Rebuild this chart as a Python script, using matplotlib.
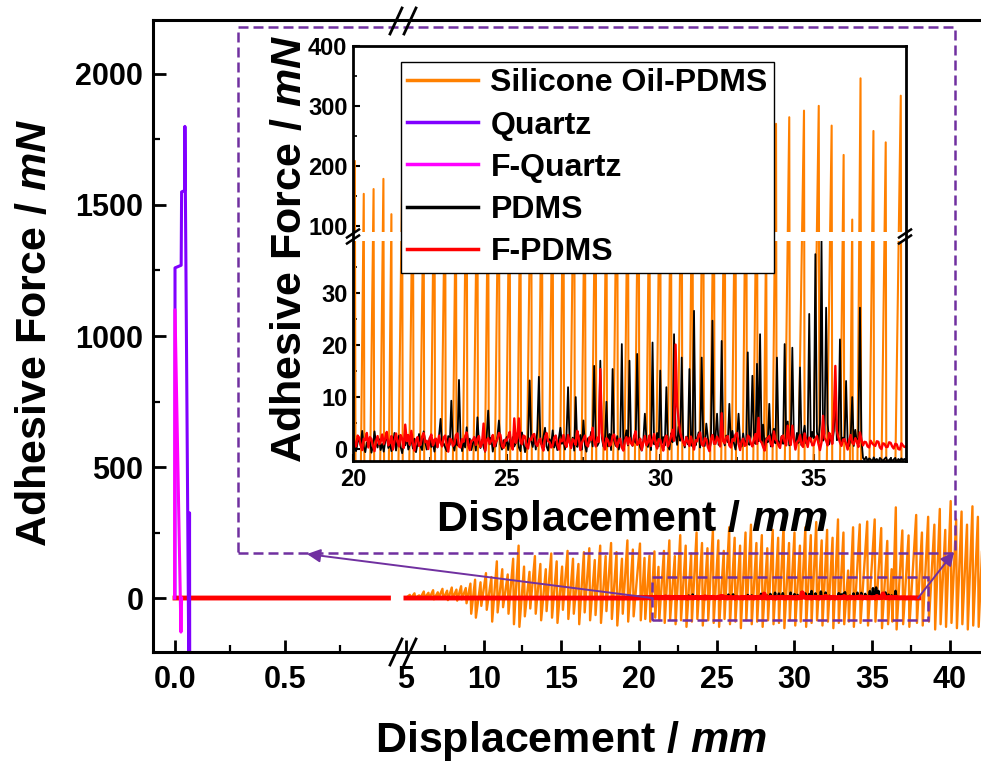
import numpy as np
import matplotlib
matplotlib.use('Agg')
import matplotlib.pyplot as plt
from matplotlib.lines import Line2D
from matplotlib.patches import Rectangle

plt.rcParams['font.family'] = 'Liberation Sans'
plt.rcParams['font.weight'] = 'bold'
plt.rcParams['mathtext.fontset'] = 'custom'
plt.rcParams['mathtext.it'] = 'Liberation Sans:italic:bold'
plt.rcParams['mathtext.rm'] = 'Liberation Sans:bold'

# ---------------- data ----------------
labels = ['Silicone Oil-PDMS', 'Quartz', 'F-Quartz', 'PDMS', 'F-PDMS']
colors = ['#FF8000', '#8000FF', '#FF00FF', '#000000', '#FF0000']

# Silicone oil-PDMS: stick-slip cycles (peak position, peak force, force after the slip)
oil_peak_x = [5.25, 5.55, 5.85, 6.15, 6.45, 6.75, 7.05, 7.35, 7.65, 7.95,
              8.25, 8.55, 8.85, 9.15, 9.45, 9.8, 10.15, 10.5, 10.85, 11.2,
              11.55, 11.9, 12.25, 12.6, 12.95, 13.3, 13.65, 14.0, 14.35, 14.7,
              15.05, 15.4, 15.75, 16.1, 16.45, 16.8, 17.15, 17.5, 17.85, 18.2,
              18.55, 18.9, 19.25, 19.6, 20.06, 20.35, 20.67, 20.99, 21.25, 21.6,
              21.95, 22.3, 22.65, 23.0, 23.35, 23.7, 24.05, 24.4, 24.75, 25.1,
              25.45, 25.8, 26.15, 26.5, 26.85, 27.2, 27.55, 27.9, 28.25, 28.6,
              28.95, 29.3, 29.65, 30.0, 30.35, 30.7, 31.05, 31.4, 31.75, 32.1,
              32.45, 32.8, 33.15, 33.45, 33.77, 34.2, 34.68, 35.16, 35.58, 35.97,
              36.25, 36.52, 36.94, 37.34, 37.83, 38.2, 38.6, 39.0, 39.35, 39.7,
              40.05, 40.4, 40.75, 41.1, 41.45, 41.8, 42.15]
oil_peak_y = [12, 18, 10, 25, 20, 30, 22, 35, 28, 40,
              32, 45, 38, 55, 70, 60, 95, 80, 140, 110,
              90, 150, 200, 120, 100, 160, 130, 110, 170, 140,
              120, 180, 150, 130, 175, 190, 145, 200, 160, 210,
              175, 150, 220, 185, 208, 153, 161, 178, 119, 180,
              220, 160, 240, 200, 170, 250, 210, 190, 260, 220,
              180, 270, 230, 200, 250, 280, 210, 240, 190, 260,
              230, 280, 210, 250, 200, 270, 240, 290, 220, 260,
              230, 300, 250, 105, 270, 281, 292, 300, 267, 218,
              110, 346, 258, 239, 317, 250, 310, 280, 340, 260,
              370, 300, 330, 280, 350, 310, 290]
oil_valley_y = [-2, 0, -3, 0, -2, -5, 0, -3, -8, -2,
                -10, -5, -20, -60, -75, -30, -45, -90, -55, -35,
                -60, -100, -110, -70, -40, -60, -85, -50, -75, -95,
                -45, -80, -60, -100, -55, -85, -65, -95, -50, -80,
                -105, -60, -90, -70, -85, -80, -90, -75, -85, -95,
                -80, -100, -85, -110, -90, -80, -105, -85, -95, -110,
                -80, -100, -90, -115, -85, -100, -90, -110, -85, -100,
                -95, -115, -85, -105, -90, -110, -95, -85, -105, -90,
                -115, -95, -100, -90, -110, -95, -105, -90, -115, -100,
                -90, -120, -100, -110, -95, -105, -90, -120, -100, -110,
                -95, -115, -100, -120, -105, -110, -100]

# Quartz and F-Quartz: a few points near zero displacement
quartz_x = [0.0, 0.0, 0.028, 0.03, 0.044, 0.045, 0.064, 0.066, 0.067]
quartz_y = [0, 1260, 1270, 1550, 1555, 1800, -400, 325, -400]
fquartz_x = [-0.002, 0.0, 0.027, 0.03]
fquartz_y = [0, 1100, -130, 0]

# PDMS and F-PDMS recorded between 20 and 38 mm (one row per mm, step 0.05 mm)
film_x = np.round(np.arange(20.0, 38.025, 0.05), 2)
pdms_y = [
    1.5, 0.2, -0.5, 1.1, 2.0, 0.6, 3.4, 0.3, -0.7, 1.2, 0.4, 1.9, -0.8, 0.5, 3.3, 1.0, 0.2, 1.8, -0.3, 0.9,
    -0.6, 1.4, 2.5, 0.1, 1.0, -0.5, 0.7, 3.0, -0.4, 1.6, 2.5, 0.3, -0.9, 1.2, 0.6, 2.2, -0.2, 0.8, 1.7, 0.0,
    1.9, -0.7, 0.9, 2.8, 0.4, -0.3, 3.3, 1.3, -0.2, 0.6, 2.1, 0.3, 1.1, -0.6, 1.5, 0.2, 2.4, 5.7, 0.5, 1.0,
    0.2, -0.5, 2.4, 0.7, 9.2, 1.0, -0.4, 1.8, 0.6, 13.2, 2.0, -0.5, 1.3, 0.2, 4.1, 0.7, 1.9, -0.3, 0.9, 2.1,
    -0.4, 6.0, 1.2, 0.1, 1.7, 0.3, -0.6, 2.2, 7.3, 0.8, 2.1, -0.6, 1.4, 0.4, 2.3, 5.4, 0.8, -0.2, 1.6, 0.5,
    2.2, -0.3, 1.7, 0.5, 2.2, 0.4, 1.1, 3.0, 0.2, -0.5, 3.1, 1.0, -0.7, 0.8, 1.9, 13.1, 1.5, 0.3, 2.4, -0.2,
    3.6, 13.8, 1.2, 0.6, 2.3, 4.0, 0.4, -0.4, 1.8, 0.7, 3.5, 0.2, 1.4, -0.3, 2.0, 4.0, 0.9, 1.6, -0.2, 2.6,
    11.8, 1.2, 0.3, 2.1, -0.4, 9.9, 0.3, 1.5, 2.6, -0.2, 5.4, 0.6, -0.6, 2.0, 1.1, 3.2, 0.4, 15.9, 1.3, 0.5,
    1.1, 16.9, 2.0, 0.4, 1.5, 9.0, 0.4, 2.8, -0.3, 15.3, 1.6, 0.5, 2.4, -0.2, 1.0, 20.1, -0.3, 1.7, 3.5, 0.6,
    16.9, 1.3, 0.5, 2.4, 1.1, 18.2, 2.4, 0.2, -0.4, 1.6, 6.7, 1.9, 0.3, 2.5, -0.3, 20.4, 0.8, 1.4, 3.0, 0.4,
    15.0, 1.0, 2.2, 0.6, 11.8, 0.5, -0.2, 2.9, 1.2, 22.0, 2.6, 0.7, 4.2, 1.5, 17.5, 1.4, 0.2, 2.3, 0.8, 15.3,
    2.0, 0.4, 26.5, 0.6, 1.8, 3.1, 0.2, 17.5, 1.5, 0.5, 4.8, 2.1, -0.3, 1.3, 24.6, 0.9, 2.2, 6.7, 0.7, 1.9,
    20.7, 1.8, 0.6, 2.5, 1.2, 8.6, 0.5, 3.4, 1.0, -0.2, 2.1, 6.7, 1.2, 0.4, 2.9, 0.8, 1.6, 18.5, 0.7, 2.3,
    14.0, 2.5, 0.9, 16.3, 1.4, 22.0, 1.1, 4.6, 0.3, 2.0, 1.2, 8.6, 0.4, 2.7, 3.8, 1.0, 17.5, 1.6, 0.5, 2.4,
    0.9, 20.1, 1.5, 5.2, 0.6, 2.3, 19.4, 1.7, 0.8, 3.0, 1.1, 15.6, 0.6, 2.6, 4.4, 1.0, 2.2, 25.9, 1.3, 3.2,
    2.0, 37.4, 3.2, 1.2, 4.8, 40.0, 1.5, 2.9, 27.1, 4.8, 0.8, 2.4, 1.0, 3.3, 9.9, 1.6, 2.6, 21.0, 0.9, 2.1,
    1.4, 13.0, 1.2, 0.5, 2.3, 9.9, 0.5, 3.6, 1.1, 2.0, 27.1, 1.8, -1.8, -2.2, -1.6, -2.4, -1.9, -2.1, -2.5, -1.7,
    -2.3, -2.0, -2.6, -1.8, -2.1, -2.4, -2.0, -1.7, -2.5, -2.2, -1.9, -2.4, -2.1, -1.8, -2.6, -2.0, -2.3, -1.9, -2.2, -2.0,
    -2.1]
fpdms_y = [
    2.8, 1.0, 0.4, 2.5, 2.1, 0.6, -0.3, 1.9, 1.6, 3.0, 0.2, 2.2, 1.8, 0.5, -0.5, 1.4, 2.4, 0.8, 1.3, 2.7,
    0.9, 2.0, 3.2, 0.6, 1.1, 2.4, -0.2, 1.5, 2.9, 1.3, 0.4, 2.6, 1.9, 0.1, 4.6, 1.4, 2.6, 0.7, 3.4, 1.0,
    -0.4, 1.6, 2.2, 0.5, 0.8, 2.3, 3.0, 1.2, 1.5, -0.1, 2.0, 2.7, 0.6, 1.7, 1.9, 0.3, 2.5, 1.1, 0.4, 2.1,
    2.5, 0.8, -0.6, 1.9, 1.7, 0.5, 0.9, 2.6, 2.9, 0.4, 0.2, 1.8, 1.3, 2.4, 3.1, 0.7, -0.3, 1.5, 1.6, 2.2,
    0.7, 1.9, 2.4, 0.3, 1.0, 4.8, -0.5, 1.6, 2.0, 0.9, 1.5, 2.6, 0.4, 1.2, 1.8, 3.0, 2.6, 0.5, 0.1, 1.7,
    1.5, 2.3, 3.2, 0.6, -0.2, 5.8, 1.1, 2.0, 5.8, 1.4, 0.8, 2.5, 2.3, 0.4, 0.0, 1.9, 1.7, 2.6, 2.8, 0.9,
    0.5, 1.6, 1.9, 0.3, -0.4, 2.2, 3.0, 1.4, 1.2, 0.2, 0.6, 2.1, 2.5, 0.8, -0.2, 1.7, 1.4, 2.6, 0.9, 0.3,
    2.6, 1.2, 0.1, 1.8, 1.5, 0.7, 3.4, 2.0, -0.3, 1.1, 1.8, 2.5, 0.7, 0.4, 2.2, 1.6, 4.0, 1.3, 0.4, 2.1,
    1.3, 15.3, 3.0, 1.0, -0.2, 2.0, 1.6, 0.5, 0.8, 2.4, 2.7, 1.1, 0.3, 1.7, 1.9, 0.2, -0.4, 1.5, 2.2, 0.8,
    2.1, 1.0, 0.6, 2.4, 3.3, 0.7, 1.0, 1.9, -0.3, 1.2, 2.4, 0.6, 1.2, 2.5, 0.5, 1.6, 2.8, 0.9, 0.0, 1.8,
    1.7, 0.6, -0.4, 1.8, 2.5, 0.4, 1.1, 2.3, 3.6, 1.5, 20.0, 8.2, 5.4, 3.1, 2.0, 1.2, 0.6, 2.2, 1.4, 0.5,
    2.3, 1.1, -0.2, 1.6, 1.4, 2.5, 3.1, 0.8, 0.5, 2.0, 1.8, 0.3, -0.5, 1.7, 2.6, 1.0, 0.9, 2.3, 1.6, 0.4,
    6.8, 1.4, 1.0, 2.2, 2.4, 0.6, 0.2, 1.8, 1.5, 2.7, 3.0, 0.9, -0.3, 1.4, 1.9, 0.5, 0.7, 2.5, 2.2, 1.0,
    0.4, 1.7, 2.8, 0.9, 5.9, 1.5, 1.2, 0.3, -0.4, 1.6, 2.0, 2.4, 0.9, 0.4, 3.3, 1.8, 1.4, 0.6, 0.1, 2.2,
    2.5, 1.3, 0.6, 4.4, 1.8, 0.7, 4.4, 1.9, -0.2, 1.1, 1.6, 2.6, 0.8, 0.3, 2.9, 1.5, 0.3, 2.1, 1.9, 0.6,
    0.7, 1.8, 2.4, 0.9, -0.3, 1.2, 6.3, 2.0, 1.5, 0.6, 3.0, 2.2, 0.9, 6.3, 15.9, 3.4, 2.1, 1.2, 0.5, 1.7,
    1.8, 0.9, -0.2, 1.6, 2.6, 1.1, 0.8, 2.0, 1.4, 0.3, 3.1, 1.7, 0.6, 1.3, 1.2, 0.4, 0.2, 1.5, 1.0, 0.7,
    0.5, 1.4, 1.3, 0.2, -0.1, 1.0, 0.9, 0.3, 0.3, 1.2, 1.1, 0.4, 0.0, 0.9, 0.8, -0.1, -0.2, 1.0, 0.6, 0.3,
    0.4]

# flat zero stretches of the PDMS / F-PDMS records before 20 mm
flat_x = [0.0, 0.97, np.nan, 5.0, 19.95]
flat_y = [0, 0, np.nan, 0, 0]

# ticks
main_xticks = [0.0, 0.5, 5, 10, 15, 20, 25, 30, 35, 40]
main_xticklabels = ['0.0', '0.5', '5', '10', '15', '20', '25', '30', '35', '40']
main_xminor = [0.25, 0.75, 7.5, 12.5, 17.5, 22.5, 27.5, 32.5, 37.5]
main_yticks = [0, 500, 1000, 1500, 2000]
main_yminor = [250, 750, 1250, 1750]
inset_xticks = [20, 25, 30, 35]
inset_xminor = [22.5, 27.5, 32.5, 37.5]
inset_yticks = [0, 10, 20, 30, 100, 200, 300, 400]
inset_yminor = [5, 15, 25, 35, 150, 250, 350]

# build the silicone oil trace
oil_x = [5.0]
oil_y = [0.0]
for px_, py_, vy_ in zip(oil_peak_x, oil_peak_y, oil_valley_y):
    oil_x += [px_, px_ + 0.05]
    oil_y += [py_, vy_]

# ---------------- broken scales ----------------
XK = 15.54 / 220.0


def x_fwd(x):
    x = np.asarray(x, dtype=float)
    return np.where(x <= 1.0, x, np.where(x >= 4.3, 1.0 + (x - 4.3) * XK, 1.0))


def x_inv(u):
    u = np.asarray(u, dtype=float)
    return np.where(u <= 1.0, u, 4.3 + (u - 1.0) / XK)


YLO, YHI = 40.8, 81.7
YK = 0.6 / 5.21


def y_fwd(y):
    y = np.asarray(y, dtype=float)
    return np.where(y <= YLO, y, np.where(y >= YHI, YLO + (y - YHI) * YK, YLO))


def y_inv(u):
    u = np.asarray(u, dtype=float)
    return np.where(u <= YLO, u, YHI + (u - YLO) / YK)


W, H = 981, 766


def fx(p):
    return p / W


def fy(p):
    return 1 - p / H


fig = plt.figure(figsize=(9.81, 7.66), dpi=100)

# ---------------- main axes ----------------
ax = fig.add_axes([fx(153), fy(652), fx(981) - fx(153), fy(20) - fy(652)])
ax.set_xscale('function', functions=(x_fwd, x_inv))
ax.set_xlim(-0.1, 42)
ax.set_ylim(-206, 2206)

main_film_x = np.concatenate([flat_x, film_x])
ax.plot(oil_x, oil_y, color=colors[0], lw=1.7, zorder=2.0)
ax.plot(main_film_x, np.concatenate([flat_y, pdms_y]), color=colors[3], lw=1.8, zorder=2.1)
ax.plot(main_film_x, np.concatenate([flat_y, fpdms_y]), color=colors[4], lw=3.5, zorder=2.2)
ax.plot(quartz_x, quartz_y, color=colors[1], lw=2.2, zorder=2.3)
ax.plot(fquartz_x, fquartz_y, color=colors[2], lw=2.2, zorder=2.4)

ax.set_xticks(main_xticks)
ax.set_xticklabels(main_xticklabels)
ax.set_xticks(main_xminor, minor=True)
ax.set_yticks(main_yticks)
ax.set_yticks(main_yminor, minor=True)
ax.tick_params(which='both', direction='in', labelsize=22, top=False, right=False)
ax.tick_params(which='major', length=9, width=2.0)
ax.tick_params(which='minor', length=5, width=1.6)
ax.tick_params(axis='x', pad=9)
ax.tick_params(axis='y', pad=7)
for s in ['left', 'bottom', 'top']:
    ax.spines[s].set_linewidth(2.2)
ax.spines['right'].set_visible(False)

# zoom box around the films
ax.add_patch(Rectangle((20.84, -84), 38.6 - 20.84, 164, fill=False,
                       ec='#7030A0', lw=1.8, ls=(0, (4, 2)), zorder=6))
arrow_kw = dict(arrowstyle='-|>', color='#7030A0', lw=1.4, mutation_scale=20,
                shrinkA=0, shrinkB=0)
ax.annotate('', xy=(fx(307), fy(554)), xycoords='figure fraction',
            xytext=(20.84, 0), textcoords='data', arrowprops=arrow_kw, zorder=7)
ax.annotate('', xy=(fx(954), fy(552)), xycoords='figure fraction',
            xytext=(37.95, 0), textcoords='data', arrowprops=arrow_kw, zorder=7)

fig.add_artist(Rectangle((fx(238), fy(553)), fx(955) - fx(238), fy(27) - fy(553),
                         transform=fig.transFigure, fill=False, ec='#7030A0',
                         lw=1.8, ls=(0, (4, 2)), zorder=10))


def break_mark(cx, cy, dx, dy, lw):
    fig.add_artist(Line2D([fx(cx - dx), fx(cx + dx)], [fy(cy + dy), fy(cy - dy)],
                          transform=fig.transFigure, color='black', lw=lw, zorder=12))


for cx in (396, 410):
    break_mark(cx, 652, 6, 13, 2.0)
    break_mark(cx, 21, 6, 13, 2.0)

fig.text(fx(35), fy(333), 'Adhesive Force / $\\mathit{mN}$', rotation=90,
         ha='center', va='center', fontsize=31, fontweight='bold')
fig.text(fx(571), fy(741), 'Displacement / $\\mathit{mm}$',
         ha='center', va='center', fontsize=31, fontweight='bold')

# ---------------- inset ----------------
axin = fig.add_axes([fx(353), fy(461), fx(906) - fx(353), fy(46) - fy(461)])
axin.set_yscale('function', functions=(y_fwd, y_inv))
axin.set_xlim(20, 38)
axin.set_ylim(-2.4, 400)

axin.plot(oil_x, oil_y, color=colors[0], lw=1.5, zorder=2.0)
axin.plot(film_x, pdms_y, color=colors[3], lw=1.3, zorder=2.1)
axin.plot(film_x, fpdms_y, color=colors[4], lw=1.7, zorder=2.2)

t0, t1, tb = y_fwd(-2.4), y_fwd(400), y_fwd(YLO)
frac = float((tb - t0) / (t1 - t0))
axin.add_patch(Rectangle((0, frac - 0.011), 1, 0.022, transform=axin.transAxes,
                         fc='white', ec='none', zorder=2.45))

axin.set_xticks(inset_xticks)
axin.set_xticks(inset_xminor, minor=True)
axin.set_yticks(inset_yticks)
axin.set_yticks(inset_yminor, minor=True)
axin.tick_params(which='both', direction='in', labelsize=17, top=False, right=False)
axin.tick_params(which='major', length=5, width=1.5)
axin.tick_params(which='minor', length=3, width=1.2)
axin.tick_params(axis='x', pad=5)
axin.tick_params(axis='y', pad=4)
for s in axin.spines.values():
    s.set_linewidth(2.0)

break_y = fy(461) + frac * (fy(46) - fy(461))
for cx in (353, 905):
    for off in (-3, 3):
        fig.add_artist(Line2D([fx(cx - 6), fx(cx + 6)],
                              [break_y + (off - 4) / H, break_y + (off + 4) / H],
                              transform=fig.transFigure, color='black', lw=1.8, zorder=12))

handles = [Line2D([], [], color=c, lw=2.5) for c in colors]
leg = axin.legend(handles, labels, loc='upper left',
                  bbox_to_anchor=(fx(401), fy(62)), bbox_transform=fig.transFigure,
                  frameon=True, fancybox=False, edgecolor='black', framealpha=1,
                  fontsize=23, handlelength=2.2, handletextpad=0.4,
                  labelspacing=0.38, borderpad=0.2, borderaxespad=0)
leg.get_frame().set_linewidth(1.0)

fig.text(fx(290), fy(249), 'Adhesive Force / $\\mathit{mN}$', rotation=90,
         ha='center', va='center', fontsize=31, fontweight='bold')
fig.text(fx(632), fy(520), 'Displacement / $\\mathit{mm}$',
         ha='center', va='center', fontsize=31, fontweight='bold')

fig.savefig('out.png', dpi=100)
